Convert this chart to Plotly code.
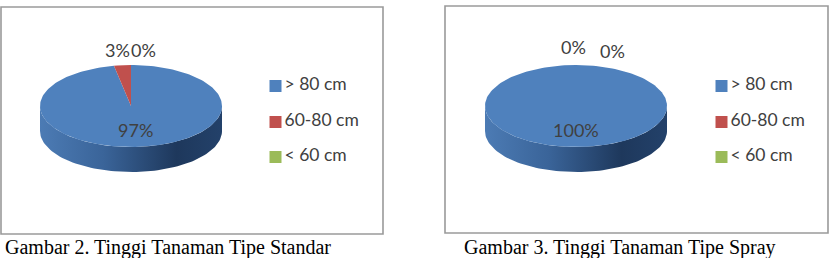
import numpy as np
import plotly.graph_objects as go

# ---- data ----
categories = ["> 80 cm", "60-80 cm", "< 60 cm"]
standar_values = [97, 3, 0]
spray_values = [100, 0, 0]
captions = ["Gambar 2. Tinggi Tanaman Tipe Standar", "Gambar 3. Tinggi Tanaman Tipe Spray"]

# ---- style ----
top_colors = ["#4F81BD", "#C0504D", "#9BBB59"]
side_scales = [
    [[0, "#4C7BB4"], [0.35, "#3A6499"], [0.75, "#1E385C"], [1, "#23416A"]],
    [[0, "#B04A47"], [0.5, "#8A3533"], [1, "#6E2A28"]],
    [[0, "#8CAA50"], [0.5, "#6E863E"], [1, "#5A6E33"]],
]
W, H = 837, 258
TXT = "#404040"
FONT = "Lato"

panels = [
    dict(values=standar_values, cx=131, cy=106, rx=91, ry=41, depth=25,
         box=(1, 7, 383, 234), leg_x=275.5, cap_x=3,
         out_pos=[None, (117, 50), (143, 50)]),
    dict(values=spray_values, cx=576, cy=106, rx=91, ry=41, depth=25,
         box=(445, 6, 828, 233), leg_x=721.5, cap_x=462,
         out_pos=[None, (573, 47), (612, 51)]),
]
leg_rows = [86, 122, 157]

fig = go.Figure()
shapes = []
annotations = []


def pt(p, theta, r=1.0, dy=0.0):
    return p["cx"] + p["rx"] * r * np.sin(theta), p["cy"] - p["ry"] * r * np.cos(theta) + dy


for pi, p in enumerate(panels):
    vals = np.array(p["values"], dtype=float)
    total = vals.sum()
    ends = np.cumsum(vals) / total * 2 * np.pi
    starts = np.concatenate([[0], ends[:-1]])

    # side (front visible half: theta in [pi/2, 3pi/2])
    for i in range(len(vals)):
        if vals[i] <= 0:
            continue
        a0 = max(starts[i], np.pi / 2)
        a1 = min(ends[i], 3 * np.pi / 2)
        if a1 <= a0:
            continue
        th = np.linspace(a0, a1, 80)
        xt, yt = pt(p, th)
        xb, yb = pt(p, th[::-1], dy=p["depth"])
        xs = np.concatenate([xt, xb, xt[:1]])
        ys = np.concatenate([yt, yb, yt[:1]])
        fig.add_trace(go.Scatter(
            x=xs, y=ys, mode="lines", line=dict(width=0), fill="toself",
            fillgradient=dict(type="horizontal", colorscale=side_scales[i]),
            hoverinfo="skip", showlegend=False))

    # top faces
    for i in range(len(vals)):
        if vals[i] <= 0:
            continue
        th = np.linspace(starts[i], ends[i], max(4, int(200 * vals[i] / total)))
        xa, ya = pt(p, th)
        if vals[i] >= total:
            xs, ys = xa, ya
        else:
            xs = np.concatenate([[p["cx"]], xa, [p["cx"]]])
            ys = np.concatenate([[p["cy"]], ya, [p["cy"]]])
        fig.add_trace(go.Scatter(
            x=xs, y=ys, mode="lines", line=dict(width=0), fill="toself",
            fillcolor=top_colors[i], hoverinfo="skip", showlegend=False))

    # labels
    for i in range(len(vals)):
        pct = f"{vals[i] / total * 100:.0f}%"
        if p["out_pos"][i] is None:
            mid = (starts[i] + ends[i]) / 2
            lx, ly = pt(p, mid, r=0.58)
            if vals[i] >= total:
                lx, ly = pt(p, np.pi, r=0.58)
        else:
            lx, ly = p["out_pos"][i]
        annotations.append(dict(x=lx, y=ly, text=pct, showarrow=False,
                                font=dict(family=FONT, size=18, color=TXT),
                                xanchor="center", yanchor="middle"))

    # legend: markers and text
    fig.add_trace(go.Scatter(
        x=[p["leg_x"]] * len(categories), y=leg_rows, mode="markers",
        marker=dict(symbol="square", size=12, color=top_colors, line=dict(width=0)),
        hoverinfo="skip", showlegend=False))
    fig.add_trace(go.Scatter(
        x=[p["leg_x"] + 9] * len(categories), y=leg_rows, mode="text",
        text=categories, textposition="middle right",
        textfont=dict(family=FONT, size=17.5, color=TXT),
        hoverinfo="skip", showlegend=False))

    # panel border
    x0, y0, x1, y1 = p["box"]
    shapes.append(dict(type="rect", xref="x", yref="y", x0=x0, y0=y0, x1=x1, y1=y1,
                       line=dict(color="#9A9A9A", width=1.6), layer="below"))
    # caption
    annotations.append(dict(x=p["cap_x"], y=247, text=captions[pi], showarrow=False,
                            xanchor="left", yanchor="middle",
                            font=dict(family="Liberation Serif", size=20, color="#000000")))

fig.update_layout(
    width=W, height=H, margin=dict(l=0, r=0, t=0, b=0),
    paper_bgcolor="white", plot_bgcolor="white",
    xaxis=dict(range=[0, W], visible=False, fixedrange=True),
    yaxis=dict(range=[H, 0], visible=False, fixedrange=True),
    shapes=shapes, annotations=annotations, showlegend=False,
)
fig.write_html("out.html")
